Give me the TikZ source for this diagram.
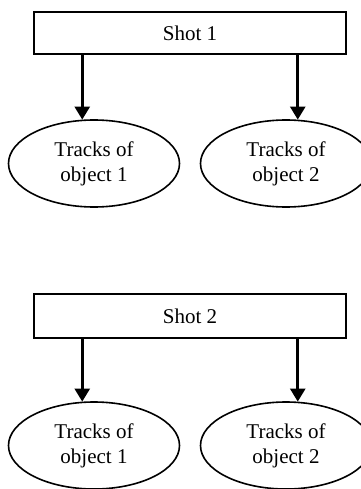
\documentclass[tikz,border=0pt]{standalone}
\usepackage{fontspec}
\setmainfont{Liberation Serif}
\usetikzlibrary{shapes.geometric,arrows.meta}
\begin{document}
\begin{tikzpicture}[x=1pt,y=-1pt,
  every node/.style={font=\fontsize{21}{25}\selectfont, inner sep=0pt},
  shotbox/.style={draw, line width=1.8pt, rectangle, minimum width=312pt},
  trackell/.style={draw, line width=1.6pt, ellipse, minimum width=171pt, minimum height=87pt, align=center},
  arr/.style={line width=2.6pt, -{Triangle[length=13pt,width=15pt]}}]
\useasboundingbox (0,0) rectangle (360,489);

% first shot and its tracks
\node[shotbox, minimum height=42pt] (b1) at (190,33) {Shot 1};
\node[trackell] (e11) at (94,163.5) {Tracks of\\object 1};
\node[trackell] (e12) at (286,163.5) {Tracks of\\object 2};
\draw[arr] (b1.south -| e11.105) -- (e11.105);
\draw[arr] (b1.south -| e12.75) -- (e12.75);

% second shot and its tracks
\node[shotbox, minimum height=44pt] (b2) at (190,316) {Shot 2};
\node[trackell] (e21) at (94,445.5) {Tracks of\\object 1};
\node[trackell] (e22) at (286,445.5) {Tracks of\\object 2};
\draw[arr] (b2.south -| e21.105) -- (e21.105);
\draw[arr] (b2.south -| e22.75) -- (e22.75);
\end{tikzpicture}
\end{document}
